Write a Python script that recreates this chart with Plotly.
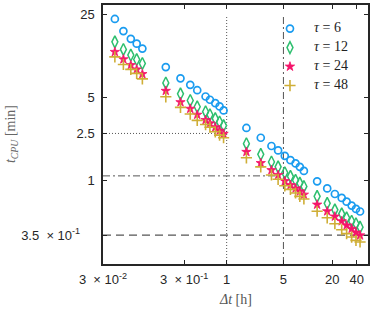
import plotly.graph_objects as go
import numpy as np

# ---- data ----
dt = [0.042, 0.0535, 0.066, 0.078, 0.0916,
      0.178, 0.27, 0.356, 0.434, 0.55, 0.622, 0.724, 0.818, 0.916,
      1.75, 2.63, 3.56, 4.3, 5.2, 6.1, 7.05, 7.96, 8.93,
      13.0, 17.3, 21.5, 26.1, 30.0, 34.6, 39.1, 43.9]

t_tau6 = [22.9, 18.1, 15.6, 14.2, 12.9,
          9.03, 7.26, 6.4, 5.77, 5.11, 4.8, 4.49, 4.22, 3.9,
          2.78, 2.3, 1.96, 1.8, 1.62, 1.49, 1.4, 1.31, 1.21,
          0.99, 0.863, 0.775, 0.718, 0.668, 0.619, 0.581, 0.552]
t_tau12 = [14.7, 12.7, 11.4, 10.45, 9.68,
           6.64, 5.38, 4.73, 4.19, 3.81, 3.59, 3.33, 3.12, 2.91,
           2.05, 1.67, 1.44, 1.31, 1.17, 1.09, 1.01, 0.957, 0.897,
           0.74, 0.647, 0.57, 0.528, 0.489, 0.458, 0.436, 0.408]
t_tau24 = [12.1, 10.5, 9.38, 8.63, 7.89,
           5.7, 4.58, 4.03, 3.59, 3.24, 3.04, 2.82, 2.64, 2.48,
           1.75, 1.41, 1.23, 1.12, 0.995, 0.92, 0.863, 0.815, 0.765,
           0.631, 0.555, 0.501, 0.458, 0.422, 0.396, 0.367, 0.348]
t_tau48 = [11.0, 9.5, 8.63, 7.99, 7.18,
           5.08, 4.14, 3.64, 3.22, 2.97, 2.82, 2.58, 2.42, 2.3,
           1.56, 1.31, 1.12, 1.03, 0.908, 0.847, 0.79, 0.74, 0.704,
           0.555, 0.489, 0.436, 0.388, 0.36, 0.337, 0.316, 0.306]

tau_values = [6, 12, 24, 48]

NB = "\u00a0"
x_tickvals = [0.03, 0.3, 1, 5, 20, 40]
x_ticktext = ["3" + NB * 2 + "×" + NB + "10<sup>-2</sup>", "3" + NB * 2 + "×" + NB + "10<sup>-1</sup>",
              "1", "5", "20", "40"]
y_tickvals = [0.35, 1, 2.5, 5, 25]
y_ticktext = ["3.5" + NB * 2 + "×" + NB + "10<sup>-1</sup>" + NB * 4, "1", "2.5", "5", "25"]

x_range = [0.03, 55]
y_range = [0.2, 30]

# reference lines
ref_dotted_h_y = 2.5
ref_dotted_v_x = 1
ref_dashdot_h_y = 1.1
ref_dashdot_v_x = 5
ref_dashed_h_y = 0.35
ref_v_top = 24

fig = go.Figure()

gray = "#555555"
fig.add_trace(go.Scatter(x=[ref_dotted_v_x, ref_dotted_v_x], y=[y_range[0], ref_v_top], mode="lines",
                         line=dict(color=gray, width=1, dash="1px,2px"), showlegend=False, hoverinfo="skip"))
fig.add_trace(go.Scatter(x=[x_range[0], ref_dotted_v_x], y=[ref_dotted_h_y, ref_dotted_h_y], mode="lines",
                         line=dict(color=gray, width=1, dash="1px,2px"), showlegend=False, hoverinfo="skip"))
fig.add_trace(go.Scatter(x=[ref_dashdot_v_x, ref_dashdot_v_x], y=[y_range[0], ref_v_top + 1], mode="lines",
                         line=dict(color=gray, width=1, dash="7px,3px,2px,3px"), showlegend=False, hoverinfo="skip"))
fig.add_trace(go.Scatter(x=[x_range[0], ref_dashdot_v_x], y=[ref_dashdot_h_y, ref_dashdot_h_y], mode="lines",
                         line=dict(color=gray, width=1, dash="7px,3px,2px,3px"), showlegend=False, hoverinfo="skip"))
fig.add_trace(go.Scatter(x=x_range, y=[ref_dashed_h_y, ref_dashed_h_y], mode="lines",
                         line=dict(color=gray, width=1.2, dash="8px,5px"), showlegend=False, hoverinfo="skip"))

blue = "#1a9cf0"
green = "#2dbf6e"
pink = "#f5146a"
gold = "#cfae36"

def lname(v):
    return '<span style="font-size:14px"><i>τ</i> = %d</span>' % v

fig.add_trace(go.Scatter(x=dt, y=t_tau6, mode="markers", name=lname(tau_values[0]),
                         marker=dict(symbol="circle-open", size=7, color=blue, line=dict(color=blue, width=1.7))))
fig.add_trace(go.Scatter(x=dt, y=t_tau12, mode="markers", name=lname(tau_values[1]),
                         marker=dict(symbol="diamond-tall-open", size=8.5, color=green, line=dict(color=green, width=1.5))))
fig.add_trace(go.Scatter(x=dt, y=t_tau24, mode="markers", name=lname(tau_values[2]),
                         marker=dict(symbol="star", size=7, color=pink, line=dict(color=pink, width=0.8))))
fig.add_trace(go.Scatter(x=dt, y=t_tau48, mode="markers", name=lname(tau_values[3]),
                         marker=dict(symbol="cross-thin", size=8, color=gold, line=dict(color=gold, width=1.6))))

axis_common = dict(type="log", showgrid=False, zeroline=False, showline=True, mirror="ticks",
                   linecolor="#262626", linewidth=1.5, ticks="inside", ticklen=4, tickwidth=1,
                   tickcolor="#262626", tickfont=dict(family="Liberation Sans, Arial", size=13, color="#262626"))

fig.update_xaxes(**axis_common, range=[np.log10(x_range[0]), np.log10(x_range[1])],
                 tickvals=x_tickvals, ticktext=x_ticktext, ticklabelstandoff=3)
fig.update_yaxes(**axis_common, range=[np.log10(y_range[0]), np.log10(y_range[1])],
                 tickvals=y_tickvals, ticktext=y_ticktext, ticklabelstandoff=4)

fig.update_layout(
    width=374, height=311,
    margin=dict(l=103, r=6, t=3, b=47),
    plot_bgcolor="white", paper_bgcolor="white",
    showlegend=True,
    legend=dict(x=0.615, y=0.965, xanchor="left", yanchor="top", bgcolor="rgba(0,0,0,0)",
                borderwidth=0, font=dict(family="Liberation Serif, DejaVu Serif", size=8, color="#222"),
                itemwidth=38, tracegroupgap=0),
    annotations=[
        dict(text="<i>Δt</i> [h]", xref="paper", yref="paper", x=0.5, y=-0.1, xanchor="center", yanchor="top",
             showarrow=False, font=dict(family="Liberation Serif, DejaVu Serif", size=14, color="#555")),
        dict(text="<i>t<sub>CPU</sub></i> [min]", xref="paper", yref="paper", x=-0.345, y=0.5,
             xanchor="center", yanchor="middle", textangle=-90,
             showarrow=False, font=dict(family="Liberation Serif, DejaVu Serif", size=14, color="#666")),
    ],
)

fig.write_html("out.html", config={"displayModeBar": False},
               post_script="document.body.style.margin='0px';document.body.style.padding='0px';")
